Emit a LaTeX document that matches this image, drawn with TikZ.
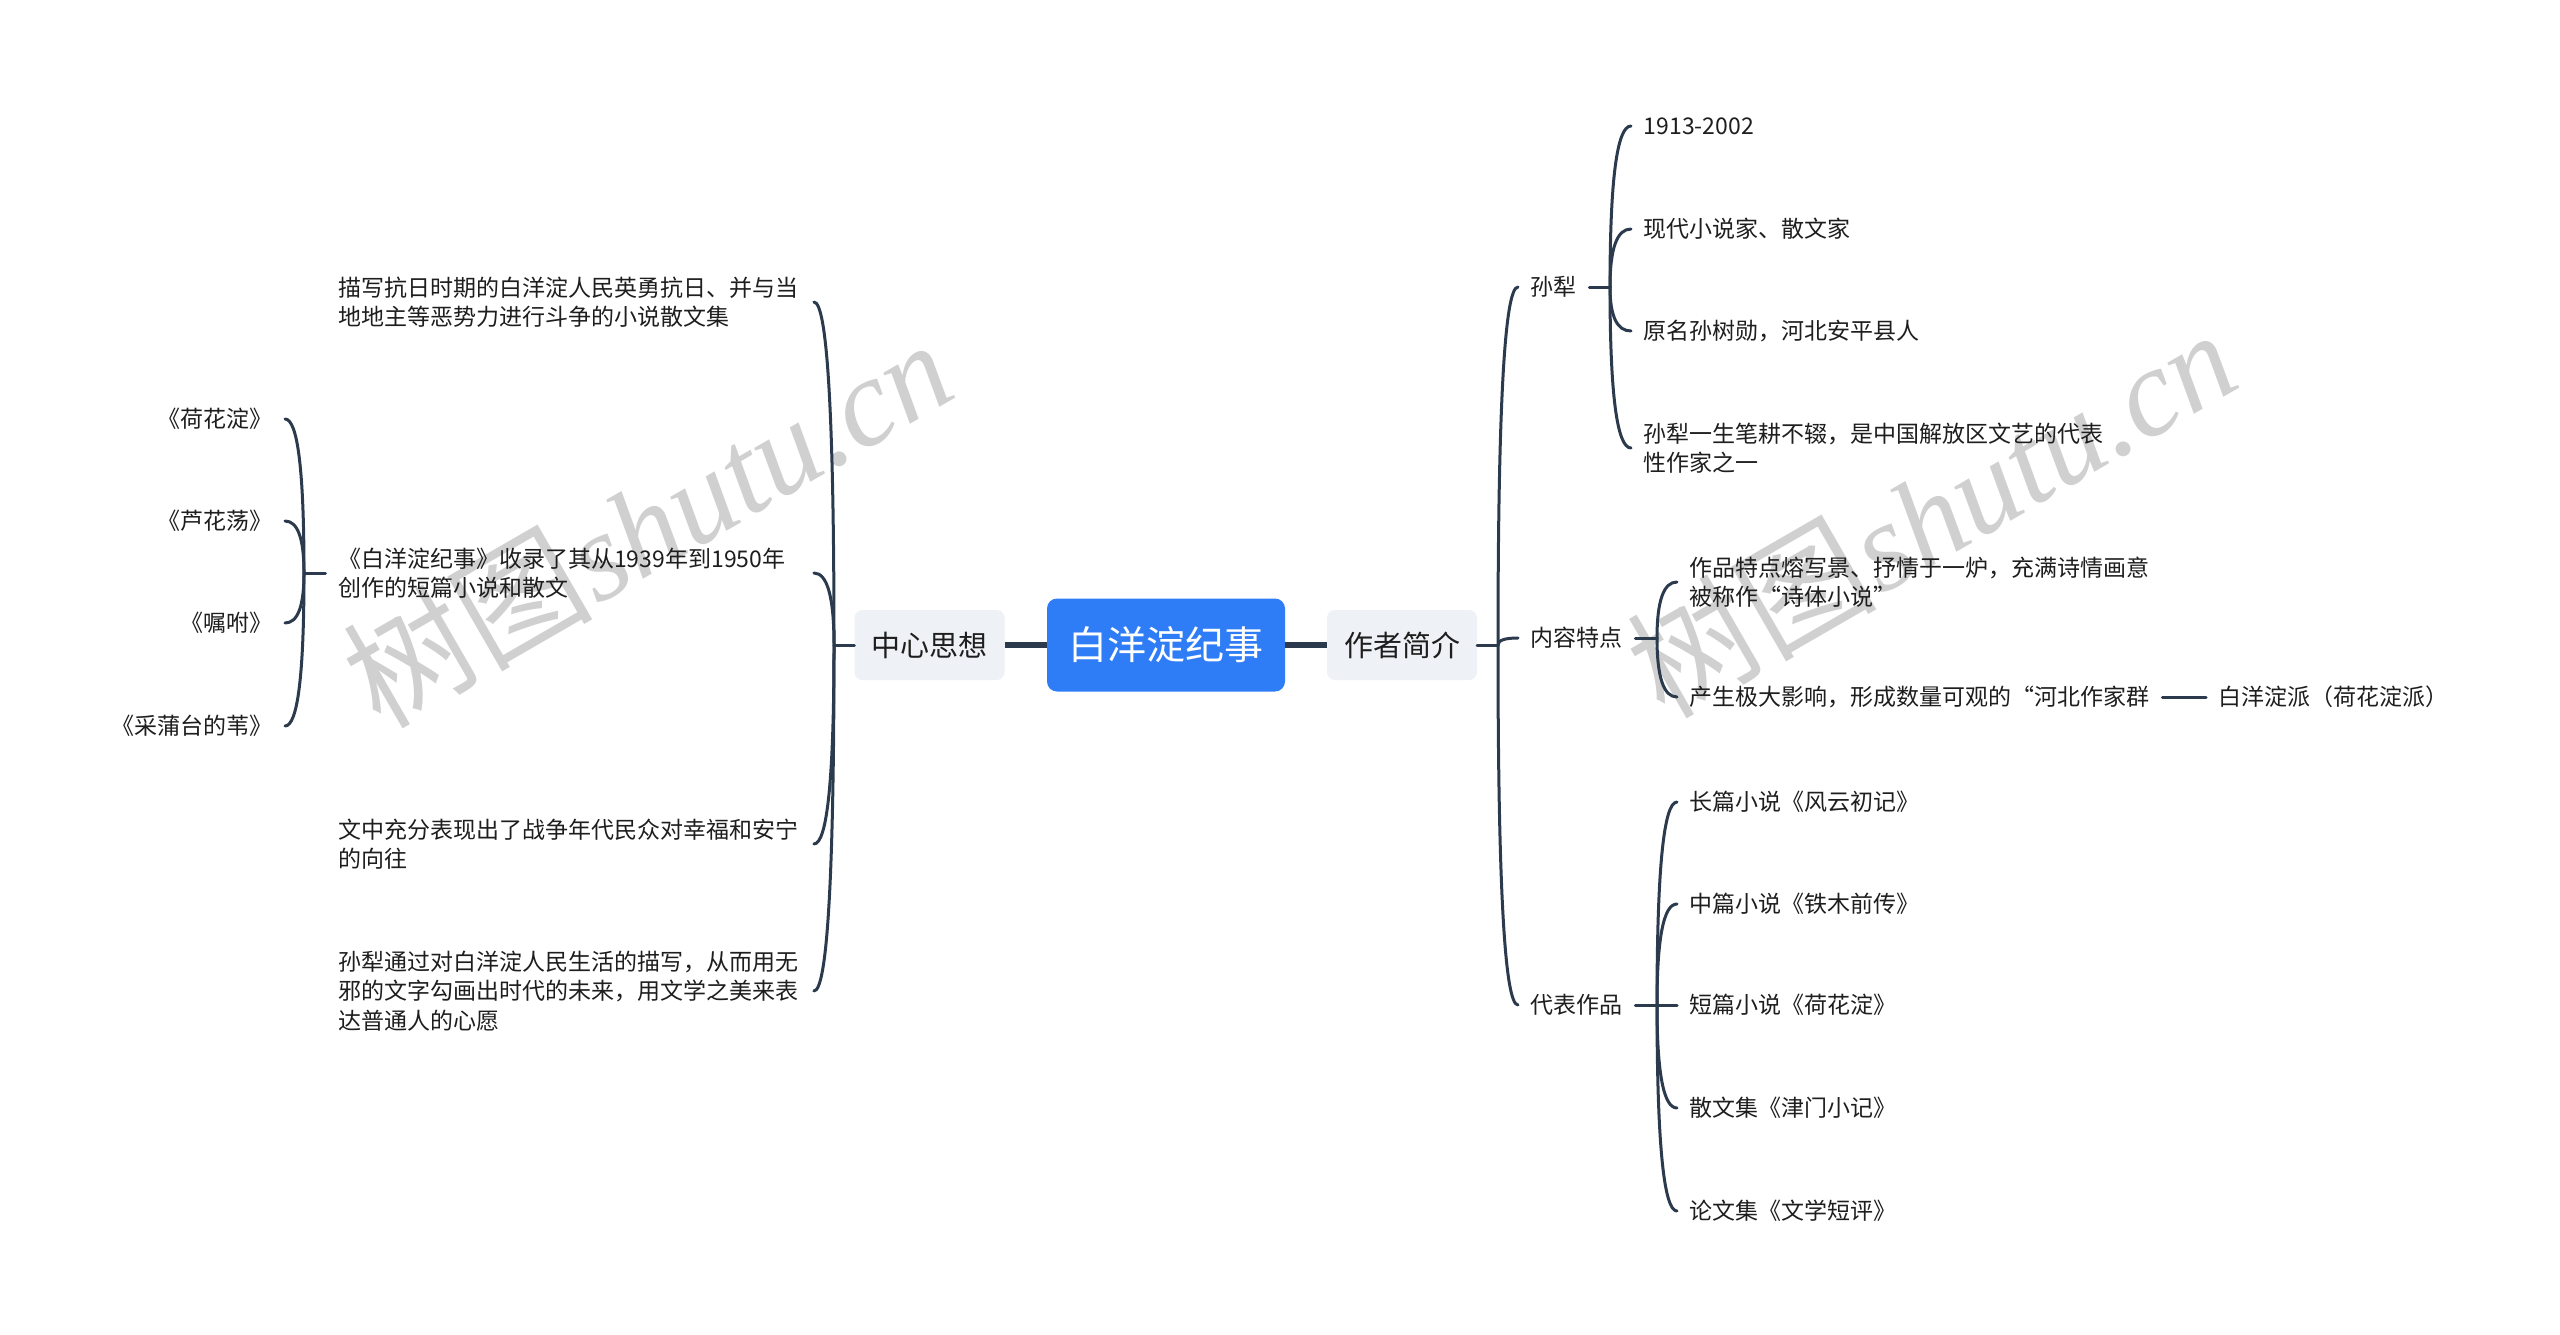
\documentclass[tikz,border=0pt]{standalone}
\usepackage{fontspec}
\setmainfont{Noto Sans CJK SC}
\newfontfamily\wmcjk{Noto Sans CJK SC}
\newfontfamily\wmlat{Liberation Serif}
\usetikzlibrary{calc}
\setlength\parindent{0pt}
\definecolor{lc}{HTML}{2C3A4E}
\definecolor{txt}{HTML}{1E1E1E}
\definecolor{mainfill}{HTML}{EEF1F5}
\definecolor{rootblue}{HTML}{2F7DF6}
\definecolor{wmgray}{HTML}{D0D0D0}
\tikzset{
  leaf/.style={font=\fontsize{23}{29.5}\selectfont, text=txt, inner xsep=12.5pt, inner ysep=2pt, align=left},
  mainbox/.style={fill=mainfill, rounded corners=8pt, font=\fontsize{29}{35}\selectfont, text=txt, minimum width=150pt, minimum height=70pt, inner sep=0pt},
  rootbox/.style={fill=rootblue, rounded corners=10pt, text=white, font=\fontsize{39}{45}\selectfont, minimum width=238pt, minimum height=93pt, inner sep=0pt},
  br/.style={draw=lc, line width=3pt, line cap=round},
  trunk/.style={draw=lc, line width=6pt},
  wm/.style={text=wmgray, inner sep=0pt, rotate=30}
}
\newcommand\mmlink[2]{\draw[br] (#1) .. controls ($(#1)!0.6667!(#1|-#2)$) and ($(#2)!0.6667!(#1|-#2)$) .. (#2);}
\begin{document}
\begin{tikzpicture}[x=1pt,y=-1pt]
\fill[white] (0,0) rectangle (2560,1335);
\useasboundingbox (0,0) rectangle (2560,1335);

% watermarks
\node[wm] (wm1) at (647,522) {\fontsize{125}{130}\selectfont\wmcjk 树图\wmlat\itshape shutu.cn};
\node[wm] (wm2) at (1931,512) {\fontsize{125}{130}\selectfont\wmcjk 树图\wmlat\itshape shutu.cn};

% root and main topics
\node[rootbox] (root) at (1166,645) {白洋淀纪事};
\node[mainbox] (zx) at (929.5,645) {中心思想};
\node[mainbox] (zz) at (1402,645) {作者简介};

% left children
\node[leaf, anchor=west, text width=463pt] (L1) at (325.5,302) {描写抗日时期的白洋淀人民英勇抗日、并与当\\地地主等恶势力进行斗争的小说散文集};
\node[leaf, anchor=west, text width=463pt] (L2) at (325.5,573) {《白洋淀纪事》收录了其从1939年到1950年\\创作的短篇小说和散文};
\node[leaf, anchor=west, text width=463pt] (L3) at (325.5,844) {文中充分表现出了战争年代民众对幸福和安宁\\的向往};
\node[leaf, anchor=west, text width=463pt] (L4) at (325.5,991) {孙犁通过对白洋淀人民生活的描写，从而用无\\邪的文字勾画出时代的未来，用文学之美来表\\达普通人的心愿};

\node[leaf, anchor=east] (K1) at (285,419) {《荷花淀》};
\node[leaf, anchor=east] (K2) at (285,521) {《芦花荡》};
\node[leaf, anchor=east] (K3) at (285,623) {《嘱咐》};
\node[leaf, anchor=east] (K4) at (285,726) {《采蒲台的苇》};

% right children
\node[leaf, anchor=west] (sunli) at (1518,287) {孙犁};
\node[leaf, anchor=west] (nr) at (1518,638) {内容特点};
\node[leaf, anchor=west] (db) at (1518,1005) {代表作品};

\node[leaf, anchor=west] (S1) at (1631,126) {1913-2002};
\node[leaf, anchor=west] (S2) at (1631,229) {现代小说家、散文家};
\node[leaf, anchor=west] (S3) at (1631,331) {原名孙树勋，河北安平县人};
\node[leaf, anchor=west] (S4) at (1631,448) {孙犁一生笔耕不辍，是中国解放区文艺的代表\\性作家之一};

\node[leaf, anchor=west] (T1) at (1677,582) {作品特点熔写景、抒情于一炉，充满诗情画意\\被称作“诗体小说”};
\node[leaf, anchor=west] (T2) at (1677,697) {产生极大影响，形成数量可观的“河北作家群};
\node[leaf, anchor=west] (T3) at (2206,697) {白洋淀派（荷花淀派）};

\node[leaf, anchor=west] (U1) at (1677,802) {长篇小说《风云初记》};
\node[leaf, anchor=west] (U2) at (1677,904) {中篇小说《铁木前传》};
\node[leaf, anchor=west] (U3) at (1677,1005) {短篇小说《荷花淀》};
\node[leaf, anchor=west] (U4) at (1677,1108) {散文集《津门小记》};
\node[leaf, anchor=west] (U5) at (1677,1211) {论文集《文学短评》};

% junction points
\coordinate (jL) at (834,645);
\coordinate (jL2) at (304,573);
\coordinate (jR) at (1498,645);
\coordinate (jR1) at (1610,287);
\coordinate (jR2) at (1657,638);
\coordinate (jR3) at (1657,1005);

% trunk connectors
\draw[trunk] (zx.east) -- (root.west);
\draw[trunk] (root.east) -- (zz.west);

% stubs
\draw[br] (zx.west) -- (jL);
\draw[br] (L2.west) -- (jL2);
\draw[br] (zz.east) -- (jR);
\draw[br] (sunli.east) -- (jR1);
\draw[br] (nr.east) -- (jR2);
\draw[br] (db.east) -- (jR3);

% branches
\mmlink{jL}{L1.east}
\mmlink{jL}{L2.east}
\mmlink{jL}{L3.east}
\mmlink{jL}{L4.east}
\mmlink{jL2}{K1.east}
\mmlink{jL2}{K2.east}
\mmlink{jL2}{K3.east}
\mmlink{jL2}{K4.east}
\mmlink{jR}{sunli.west}
\mmlink{jR}{nr.west}
\mmlink{jR}{db.west}
\mmlink{jR1}{S1.west}
\mmlink{jR1}{S2.west}
\mmlink{jR1}{S3.west}
\mmlink{jR1}{S4.west}
\mmlink{jR2}{T1.west}
\mmlink{jR2}{T2.west}
\mmlink{jR3}{U1.west}
\mmlink{jR3}{U2.west}
\mmlink{jR3}{U3.west}
\mmlink{jR3}{U4.west}
\mmlink{jR3}{U5.west}
\draw[br] (T2.east) -- (T3.west);
\end{tikzpicture}
\end{document}
